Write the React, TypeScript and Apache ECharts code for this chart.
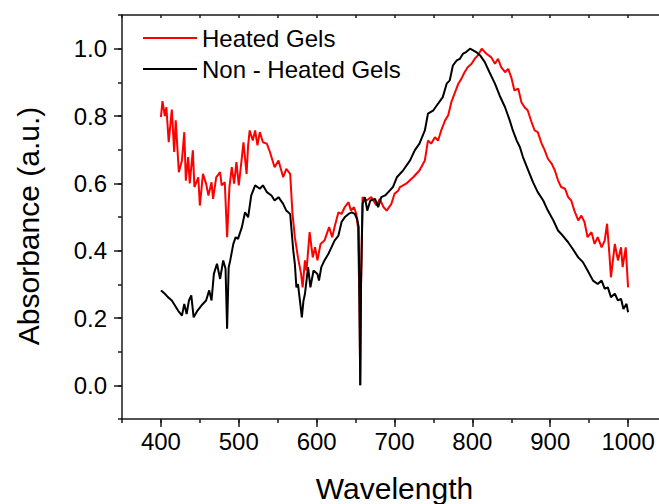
import React, { useEffect, useRef } from "react";
import * as echarts from "echarts";

const heatedWavelength = [
  400, 402, 405, 407, 410, 414, 417, 419, 423, 427, 430, 432, 435, 437, 441, 443, 448, 450, 454, 458,
  461, 465, 467, 471, 476, 478, 482, 485, 488, 491, 494, 497, 500, 504, 506, 510, 512, 514, 518, 521,
  524, 527, 531, 536, 540, 546, 551, 557, 561, 566, 569, 572, 576, 580, 582, 585, 587, 591, 595, 598,
  601, 605, 610, 616, 620, 623, 628, 632, 636, 641, 644, 648, 651, 653, 655, 656, 657, 659, 664, 670,
  677, 681, 686, 690, 696, 700, 705, 707, 715, 724, 732, 739, 743, 747, 752, 756, 760, 765, 769, 773,
  777, 782, 786, 790, 794, 799, 803, 807, 812, 818, 824, 829, 833, 837, 842, 846, 850, 854, 859, 863,
  867, 871, 876, 880, 884, 889, 893, 897, 902, 906, 910, 914, 919, 923, 927, 931, 936, 940, 944, 948,
  953, 957, 961, 966, 970, 973, 976, 978, 983, 987, 991, 993, 997, 1000,
];
const heatedAbs = [
  0.797, 0.844, 0.8, 0.826, 0.722, 0.819, 0.693, 0.787, 0.633, 0.668, 0.752, 0.608, 0.678, 0.6, 0.698, 0.589, 0.618, 0.534, 0.628, 0.599,
  0.564, 0.603, 0.554, 0.618, 0.633, 0.594, 0.603, 0.44, 0.589, 0.648, 0.599, 0.663, 0.594, 0.678, 0.722, 0.628, 0.713, 0.757, 0.727, 0.757,
  0.713, 0.752, 0.722, 0.718, 0.693, 0.648, 0.668, 0.618, 0.643, 0.628, 0.509, 0.44, 0.38, 0.331, 0.291, 0.371, 0.341, 0.455, 0.38, 0.41,
  0.371, 0.42, 0.43, 0.47, 0.44, 0.47, 0.514, 0.509, 0.529, 0.544, 0.519, 0.529, 0.509, 0.47, 0.25, 0.0, 0.3, 0.559, 0.549, 0.559,
  0.534, 0.554, 0.529, 0.519, 0.539, 0.569, 0.579, 0.589, 0.599, 0.618, 0.638, 0.668, 0.727, 0.718, 0.737, 0.727, 0.757, 0.787, 0.802, 0.841,
  0.866, 0.896, 0.911, 0.93, 0.945, 0.955, 0.97, 0.98, 1.0, 0.985, 0.975, 0.955, 0.97, 0.945, 0.93, 0.94, 0.915, 0.876, 0.881, 0.841,
  0.826, 0.817, 0.782, 0.757, 0.752, 0.718, 0.698, 0.673, 0.658, 0.638, 0.609, 0.589, 0.584, 0.559, 0.549, 0.519, 0.49, 0.504, 0.485, 0.44,
  0.455, 0.42, 0.44, 0.41, 0.43, 0.48, 0.39, 0.321, 0.42, 0.371, 0.41, 0.351, 0.41, 0.291,
];

const nonHeatedWavelength = [
  400, 401, 405, 409, 414, 418, 422, 427, 430, 433, 436, 439, 442, 447, 452, 458, 462, 465, 468, 472,
  476, 480, 483, 485, 487, 489, 493, 496, 499, 504, 508, 512, 516, 521, 527, 531, 536, 542, 546, 551,
  557, 561, 566, 570, 572, 574, 576, 578, 581, 583, 585, 589, 592, 596, 601, 603, 606, 610, 615, 619,
  623, 628, 632, 636, 641, 645, 649, 652, 654, 656, 657, 659, 662, 665, 669, 675, 679, 683, 688, 692,
  698, 703, 711, 720, 726, 732, 739, 743, 750, 756, 762, 767, 771, 775, 780, 784, 788, 792, 797, 801,
  805, 810, 816, 822, 829, 835, 842, 848, 852, 857, 861, 865, 871, 878, 884, 891, 897, 904, 910, 916,
  923, 929, 936, 942, 948, 955, 961, 966, 970, 974, 978, 983, 987, 991, 994, 998, 1000,
];
const nonHeatedAbs = [
  0.282, 0.28, 0.272, 0.262, 0.252, 0.237, 0.222, 0.207, 0.242, 0.212, 0.252, 0.267, 0.202, 0.222, 0.237, 0.252, 0.282, 0.252, 0.331, 0.361,
  0.316, 0.371, 0.346, 0.168, 0.35, 0.371, 0.42, 0.44, 0.435, 0.47, 0.514, 0.499, 0.564, 0.594, 0.584, 0.594, 0.574, 0.564, 0.549, 0.559,
  0.539, 0.519, 0.509, 0.4, 0.361, 0.291, 0.301, 0.262, 0.202, 0.25, 0.272, 0.351, 0.291, 0.341, 0.331, 0.311, 0.351, 0.371, 0.39, 0.41,
  0.43, 0.445, 0.485, 0.499, 0.509, 0.514, 0.509, 0.494, 0.47, 0.0, 0.3, 0.539, 0.559, 0.519, 0.549, 0.554, 0.529, 0.559, 0.564, 0.574,
  0.589, 0.618, 0.638, 0.668, 0.698, 0.718, 0.757, 0.807, 0.817, 0.837, 0.856, 0.896, 0.906, 0.95, 0.965, 0.97, 0.985, 0.99, 1.0, 0.995,
  0.99, 0.98, 0.96, 0.93, 0.896, 0.861, 0.826, 0.787, 0.757, 0.727, 0.708, 0.678, 0.643, 0.603, 0.574, 0.549, 0.519, 0.49, 0.46, 0.445,
  0.425, 0.405, 0.38, 0.366, 0.341, 0.311, 0.301, 0.311, 0.287, 0.291, 0.262, 0.272, 0.252, 0.257, 0.227, 0.242, 0.217,
];

const xTickLabels = [400, 500, 600, 700, 800, 900, 1000];
const yTickLabels = [0, 0.2, 0.4, 0.6, 0.8, 1.0];

const FONT = "Liberation Sans, Arial, sans-serif";

export default function App() {
  const ref = useRef<HTMLDivElement>(null);
  useEffect(() => {
    document.body.style.margin = "0";
    if (!ref.current) return;
    const chart = echarts.init(ref.current, null, { renderer: "svg" });
    const heated = heatedWavelength.map((w, i) => [w, heatedAbs[i]]);
    const nonHeated = nonHeatedWavelength.map((w, i) => [w, nonHeatedAbs[i]]);
    const axisColor = "#1a1a1a";
    chart.setOption({
      animation: false,
      backgroundColor: "#fff",
      grid: { left: 122, top: 15, right: -8, bottom: 85, containLabel: false, outerBoundsMode: "none" },
      legend: {
        orient: "vertical",
        left: 138,
        top: 21,
        itemWidth: 54,
        itemHeight: 2,
        itemGap: 7,
        textStyle: { fontFamily: FONT, fontSize: 24, color: "#000" },
        data: [
          { name: "Heated Gels", icon: "rect", itemStyle: { color: "#ff0000" } },
          { name: "Non - Heated Gels", icon: "rect", itemStyle: { color: "#000000" } },
        ],
        itemStyle: { borderWidth: 0 },
      },
      xAxis: [
        {
          type: "value",
          position: "bottom",
          min: 350,
          max: 1050,
          interval: 50,
          name: "Wavelength",
          nameLocation: "middle",
          nameGap: 54,
          nameTextStyle: { fontFamily: FONT, fontSize: 30, color: "#000" },
          axisLine: { show: true, onZero: false, lineStyle: { color: axisColor, width: 1.5 } },
          axisTick: { show: true, inside: false, length: 8, customValues: xTickLabels, lineStyle: { color: axisColor, width: 1.5 } },
          axisLabel: {
            show: true,
            customValues: xTickLabels,
            margin: 10,
            fontFamily: FONT,
            fontSize: 24,
            color: "#000",
            formatter: (v: number) => String(Math.round(v)),
          },
          splitLine: { show: false },
        },
        {
          type: "value",
          position: "bottom",
          min: 350,
          max: 1050,
          interval: 50,
          axisLine: { show: false, onZero: false },
          axisTick: { show: true, inside: false, length: 4, lineStyle: { color: axisColor, width: 1.5 } },
          axisLabel: { show: false },
          splitLine: { show: false },
        },
        {
          type: "value",
          position: "top",
          min: 350,
          max: 1050,
          interval: 50,
          axisLine: { show: true, onZero: false, lineStyle: { color: axisColor, width: 1.5 } },
          axisTick: { show: true, inside: true, length: 3, lineStyle: { color: axisColor, width: 1.5 } },
          axisLabel: { show: false },
          splitLine: { show: false },
        },
      ],
      yAxis: [
        {
          type: "value",
          position: "left",
          min: -0.1,
          max: 1.1,
          interval: 0.1,
          axisLine: { show: true, onZero: false, lineStyle: { color: axisColor, width: 1.5 } },
          axisTick: { show: true, inside: false, length: 8, customValues: yTickLabels, lineStyle: { color: axisColor, width: 1.5 } },
          axisLabel: {
            show: true,
            customValues: yTickLabels,
            margin: 15,
            fontFamily: FONT,
            fontSize: 24,
            color: "#000",
            formatter: (v: number) => v.toFixed(1),
          },
          splitLine: { show: false },
        },
        {
          type: "value",
          position: "left",
          min: -0.1,
          max: 1.1,
          interval: 0.1,
          axisLine: { show: false, onZero: false },
          axisTick: { show: true, inside: false, length: 4, lineStyle: { color: axisColor, width: 1.5 } },
          axisLabel: { show: false },
          splitLine: { show: false },
        },
      ],
      graphic: [
        {
          type: "text",
          x: 28,
          y: 226,
          rotation: Math.PI / 2,
          style: {
            text: "Absorbance (a.u.)",
            fontFamily: FONT,
            fontSize: 30,
            fill: "#000",
            align: "center",
            verticalAlign: "middle",
          },
        },
      ],
      series: [
        {
          name: "Heated Gels",
          type: "line",
          xAxisIndex: 0,
          yAxisIndex: 0,
          data: heated,
          symbol: "none",
          lineStyle: { color: "#ff0000", width: 2 },
          itemStyle: { color: "#ff0000" },
          z: 2,
        },
        {
          name: "Non - Heated Gels",
          type: "line",
          xAxisIndex: 0,
          yAxisIndex: 0,
          data: nonHeated,
          symbol: "none",
          lineStyle: { color: "#000000", width: 2 },
          itemStyle: { color: "#000000" },
          z: 3,
        },
      ],
    });
    return () => chart.dispose();
  }, []);
  return <div ref={ref} style={{ width: 659, height: 504 }} />;
}
